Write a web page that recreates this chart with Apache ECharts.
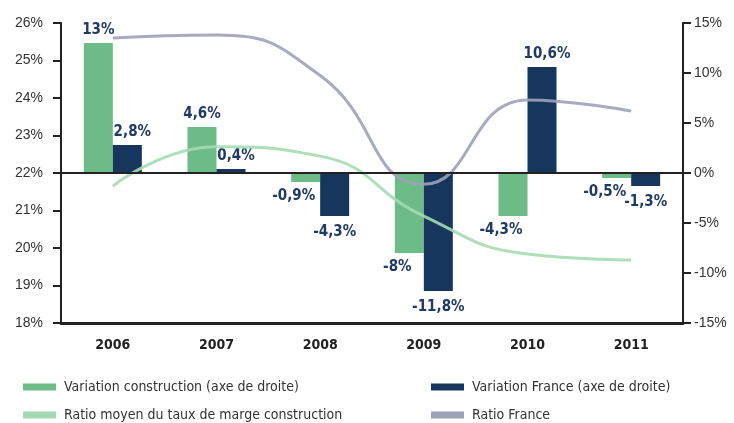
<!DOCTYPE html>
<html>
<head>
<meta charset="utf-8">
<script src="https://cdn.jsdelivr.net/npm/echarts@6/dist/echarts.min.js"></script>
<style>html,body{margin:0;padding:0;background:#fff;}#chart{width:734px;height:423px;}</style>
</head>
<body>
<div id="chart"></div>
<script>
const categories = ['2006', '2007', '2008', '2009', '2010', '2011'];
const variationConstruction = [13, 4.6, -0.9, -8, -4.3, -0.5];
const variationFrance = [2.8, 0.4, -4.3, -11.8, 10.6, -1.3];
const ratioConstruction = [21.65, 22.7, 22.45, 20.85, 19.84, 19.68];
const ratioFrance = [25.6, 25.68, 24.6, 21.7, 23.95, 23.65];
const leftTicks = [18, 19, 20, 21, 22, 23, 24, 25, 26];
const rightTicks = [-15, -10, -5, 0, 5, 10, 15];

const names = {
  vc: 'Variation construction (axe de droite)',
  vf: 'Variation France (axe de droite)',
  rc: 'Ratio moyen du taux de marge construction',
  rf: 'Ratio France'
};
const colors = { vc: '#6dbb86', vf: '#17365d', rc: '#a6dab3', rf: '#9ea2b9' };
const narrow = '"DejaVu Sans Condensed", "Liberation Sans Narrow", sans-serif';

function fmt(v) { return String(v).replace('.', ',') + '%'; }
// label placement rule: above positive bars, below negative ones
function barData(arr, isGreen) {
  return arr.map(v => {
    const pos = v >= 0 ? 'top' : 'bottom';
    let dx = 0, dist = 5;
    if (v < 0) { dist = isGreen ? 7 : 9; if (isGreen) dx = -12; }
    else if (!isGreen) dx = 5;
    return { value: v, label: { position: pos, offset: [dx, 0], distance: dist } };
  });
}
const barLabel = {
  show: true,
  formatter: p => fmt(p.value),
  fontFamily: narrow,
  fontWeight: 'bold',
  fontSize: 15,
  color: '#1f3a64'
};

function legendAt(left, top, name) {
  return {
    left: left, top: top, orient: 'horizontal', itemWidth: 33, itemHeight: 7,
    icon: 'rect', itemGap: 0,
    textStyle: { fontFamily: narrow, fontSize: 14, color: '#333', padding: [0, 0, 0, 3] },
    data: [name]
  };
}

const chart = echarts.init(document.getElementById('chart'));
chart.setOption({
  animation: false,
  backgroundColor: '#fff',
  grid: { left: 61, right: 51, top: 23, bottom: 100 },
  legend: [
    legendAt(18, 375, names.vc),
    legendAt(18, 403, names.rc),
    legendAt(426, 375, names.vf),
    legendAt(426, 403, names.rf)
  ],
  xAxis: {
    type: 'category',
    data: categories,
    axisLine: { onZero: false, lineStyle: { color: '#222', width: 3 } },
    axisTick: { show: false },
    axisLabel: { fontFamily: narrow, fontWeight: 'bold', fontSize: 14, color: '#222', margin: 15 }
  },
  yAxis: [
    {
      type: 'value', min: 18, max: 26, interval: 1, position: 'left',
      splitLine: { show: false },
      axisLine: { show: true, lineStyle: { color: '#222', width: 2 } },
      axisTick: { show: true, length: 8, lineStyle: { color: '#222', width: 2 } },
      axisLabel: { formatter: v => leftTicks.includes(v) ? v + '%' : '', fontFamily: '"Liberation Sans", Arial, sans-serif', fontSize: 14, color: '#333', margin: 18 }
    },
    {
      type: 'value', min: -15, max: 15, interval: 5, position: 'right',
      splitLine: { show: false },
      axisLine: { show: true, lineStyle: { color: '#222', width: 2 } },
      axisTick: { show: true, length: 8, lineStyle: { color: '#222', width: 2 } },
      axisLabel: { formatter: v => rightTicks.includes(v) ? v + '%' : '', fontFamily: '"Liberation Sans", Arial, sans-serif', fontSize: 14, color: '#333', margin: 11 }
    }
  ],
  series: [
    {
      name: names.vc, type: 'bar', yAxisIndex: 1, barWidth: 29, barGap: '0%',
      itemStyle: { color: colors.vc },
      label: barLabel,
      data: barData(variationConstruction, true),
      markLine: {
        silent: true, symbol: 'none', label: { show: false },
        lineStyle: { color: '#222', width: 2, type: 'solid' },
        data: [{ yAxis: 0 }]
      },
      z: 2
    },
    {
      name: names.vf, type: 'bar', yAxisIndex: 1, barWidth: 29, barGap: '0%',
      itemStyle: { color: colors.vf },
      label: barLabel,
      data: barData(variationFrance, false),
      z: 2
    },
    {
      name: names.rc, type: 'line', yAxisIndex: 0, smooth: 0.5,
      symbol: 'none', lineStyle: { color: colors.rc, width: 3, opacity: 0.9 },
      itemStyle: { color: colors.rc },
      data: ratioConstruction, z: 3
    },
    {
      name: names.rf, type: 'line', yAxisIndex: 0, smooth: 0.5,
      symbol: 'none', lineStyle: { color: colors.rf, width: 3, opacity: 0.9 },
      itemStyle: { color: colors.rf },
      data: ratioFrance, z: 3
    }
  ]
});
</script>
</body>
</html>
